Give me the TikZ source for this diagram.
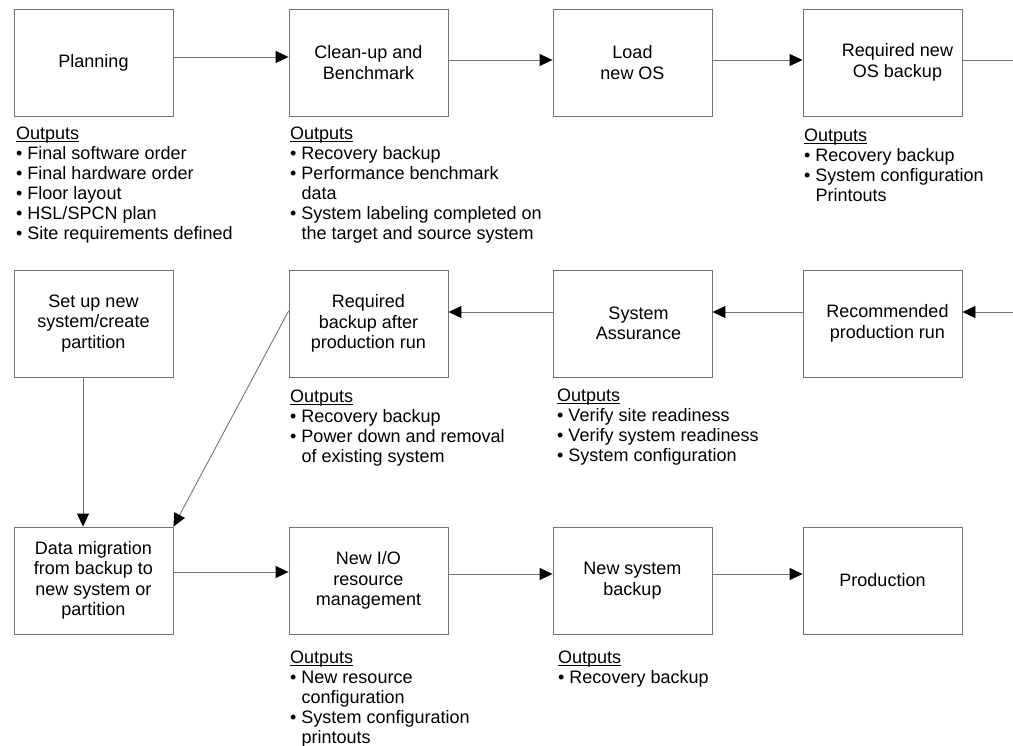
\documentclass[tikz,border=0pt]{standalone}
\usepackage{fontspec}
\setmainfont{Liberation Sans}
\usetikzlibrary{arrows.meta}

\newcommand{\outhead}{\setbox0\hbox{Outputs}\rlap{\rule[-2.2pt]{\wd0}{0.8pt}}Outputs}
\newcommand{\more}{\phantom{\textbullet\ }}

\begin{document}
\begin{tikzpicture}[x=1pt,y=-1pt,
    stage/.style={draw=black!55,line width=0.9pt,minimum width=159pt,
        minimum height=107pt,inner sep=0pt,align=center,
        font=\fontsize{18}{20.5}\selectfont},
    outs/.style={anchor=north west,inner sep=0pt,align=left,
        font=\fontsize{18}{20}\selectfont},
    link/.style={draw=black!55,line width=0.9pt},
    flow/.style={link,-{Triangle[length=13pt,width=12pt,color=black]}}]
    \useasboundingbox (0,0) rectangle (1013,746);

    % first row
    \node[stage] (plan)  at (93.5,62.5)  {Planning};
    \node[stage] (clean) at (368.5,62.5) {Clean-up and\\Benchmark};
    \node[stage] (load)  at (632.5,62.5) {Load\\new OS};
    \node[stage] (reqos) at (882.5,62.5) {\hspace*{30pt}Required new\\\hspace*{30pt}OS backup};

    % second row
    \node[stage] (setup) at (93.5,323.5)  {Set up new\\system/create\\partition};
    \node[stage] (reqbk) at (368.5,323.5) {Required\\backup after\\production run};
    \node[stage] (assur) at (632.5,323.5) {\hspace*{12pt}System\\\hspace*{12pt}Assurance};
    \node[stage] (recom) at (882.5,323.5) {\hspace*{10pt}Recommended\\\hspace*{10pt}production run};

    % third row
    \node[stage] (migr)  at (93.5,580.5)  {Data migration\\from backup to\\new system or\\partition};
    \node[stage] (newio) at (368.5,580.5) {New I/O\\resource\\management};
    \node[stage] (nsbk)  at (632.5,580.5) {New system\\backup};
    \node[stage] (prod)  at (882.5,580.5) {Production};

    % outputs
    \node[outs] (planout) at (16,127) {\outhead\\
        \textbullet\ Final software order\\
        \textbullet\ Final hardware order\\
        \textbullet\ Floor layout\\
        \textbullet\ HSL/SPCN plan\\
        \textbullet\ Site requirements defined};
    \node[outs] (cleanout) at (290,127) {\outhead\\
        \textbullet\ Recovery backup\\
        \textbullet\ Performance benchmark\\
        \more data\\
        \textbullet\ System labeling completed on\\
        \more the target and source system};
    \node[outs] (reqosout) at (804,129) {\outhead\\
        \textbullet\ Recovery backup\\
        \textbullet\ System configuration\\
        \more Printouts};
    \node[outs] (reqbkout) at (290,390) {\outhead\\
        \textbullet\ Recovery backup\\
        \textbullet\ Power down and removal\\
        \more of existing system};
    \node[outs] (assurout) at (557,389) {\outhead\\
        \textbullet\ Verify site readiness\\
        \textbullet\ Verify system readiness\\
        \textbullet\ System configuration};
    \node[outs] (newioout) at (290,651) {\outhead\\
        \textbullet\ New resource\\
        \more configuration\\
        \textbullet\ System configuration\\
        \more printouts};
    \node[outs] (nsbkout) at (558,651) {\outhead\\
        \textbullet\ Recovery backup};

    % free ends at the right margin
    \coordinate (exitA) at (1013,60);
    \coordinate (entryB) at (1013,312);

    \draw[flow] ([yshift=5.5pt]plan.east) -- ([yshift=5.5pt]clean.west);
    \draw[flow] ([yshift=2.5pt]clean.east) -- ([yshift=2.5pt]load.west);
    \draw[flow] ([yshift=2.5pt]load.east) -- ([yshift=2.5pt]reqos.west);
    \draw[link] ([yshift=2.5pt]reqos.east) -- (exitA);

    \draw[flow] (entryB) -- ([yshift=11.5pt]recom.east);
    \draw[flow] ([yshift=11.5pt]recom.west) -- ([yshift=11.5pt]assur.east);
    \draw[flow] ([yshift=11.5pt]assur.west) -- ([yshift=11.5pt]reqbk.east);
    \draw[flow] ([yshift=12.5pt]reqbk.west) -- (migr.north east);
    \draw[flow] ([xshift=-10.5pt]setup.south) -- ([xshift=-10.5pt]migr.north);

    \draw[flow] ([yshift=8.5pt]migr.east) -- ([yshift=8.5pt]newio.west);
    \draw[flow] ([yshift=6.5pt]newio.east) -- ([yshift=6.5pt]nsbk.west);
    \draw[flow] ([yshift=6.5pt]nsbk.east) -- ([yshift=6.5pt]prod.west);
\end{tikzpicture}
\end{document}
